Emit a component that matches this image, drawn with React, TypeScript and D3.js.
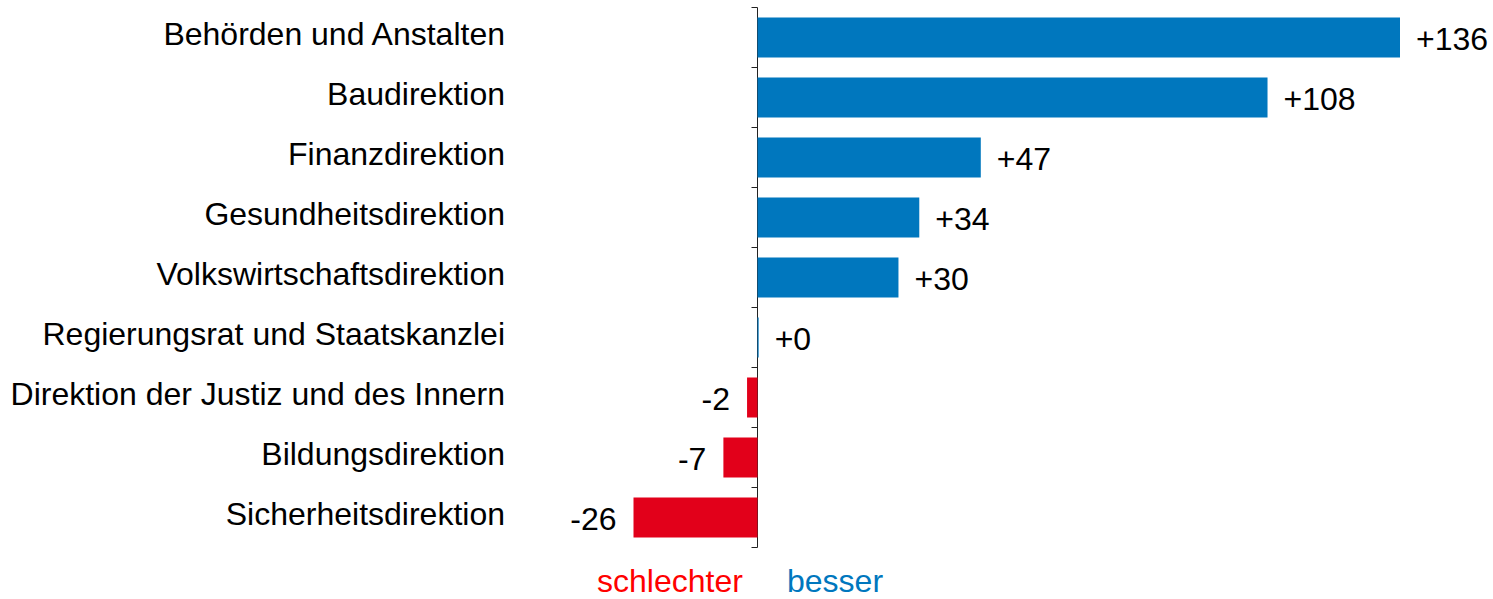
import React from 'react';
import {scaleBand, scaleLinear} from 'd3';

const categories = [
    'Behörden und Anstalten',
    'Baudirektion',
    'Finanzdirektion',
    'Gesundheitsdirektion',
    'Volkswirtschaftsdirektion',
    'Regierungsrat und Staatskanzlei',
    'Direktion der Justiz und des Innern',
    'Bildungsdirektion',
    'Sicherheitsdirektion',
];
const values = [136, 108, 47.4, 34.4, 30, 0.45, -2, -7, -26];
const legendLabels = ['schlechter', 'besser'];

const BLUE = '#0077be';
const RED = '#e2001a';
const FONT = '"Liberation Sans", Arial, sans-serif';

const fmt = (v: number) => (v >= 0 ? '+' : '-') + Math.round(Math.abs(v));

const App = () => {
    const yScale = scaleBand<string>()
        .domain(categories)
        .range([7.5, 547.5])
        .paddingInner(1 / 3)
        .paddingOuter(1 / 6);

    const xScale = scaleLinear()
        .domain([-26, 136])
        .range([633.5, 1400]);

    const x0 = Math.round(xScale(0)) + 0.5;
    const step = yScale.step();
    const ticks = categories.map((c, i) => 7.5 + i * step).concat([7.5 + categories.length * step]);

    return (
        <svg width={1493} height={599} style={{position: 'absolute', left: 0, top: 0}} fontFamily={FONT}>
            <line x1={x0} x2={x0} y1={ticks[0]} y2={ticks[ticks.length - 1]} stroke="#222" strokeWidth={1} />
            {ticks.map((t, i) => (
                <line key={i} x1={x0 - 6} x2={x0} y1={t} y2={t} stroke="#222" strokeWidth={1} />
            ))}
            {categories.map((c, i) => {
                const v = values[i];
                const y = yScale(c) as number;
                const h = yScale.bandwidth();
                const x1 = xScale(v);
                return (
                    <g key={c}>
                        <rect
                            x={Math.min(x0, x1)}
                            y={y}
                            width={Math.abs(x1 - x0)}
                            height={h}
                            fill={v >= 0 ? BLUE : RED}
                        />
                        <text x={505} y={y + h / 2 + 7.5} textAnchor="end" fontSize={32} fill="#000">{c}</text>
                        <text
                            x={v >= 0 ? x1 + 16 : x1 - 17}
                            y={y + h / 2 + 12}
                            textAnchor={v >= 0 ? 'start' : 'end'}
                            fontSize={32}
                            fill="#000"
                        >{fmt(v)}</text>
                    </g>
                );
            })}
            <text x={597} y={592} fontSize={32} fill="#ff0000">{legendLabels[0]}</text>
            <text x={787} y={592} fontSize={32} fill={BLUE}>{legendLabels[1]}</text>
        </svg>
    );
};

export default App;
